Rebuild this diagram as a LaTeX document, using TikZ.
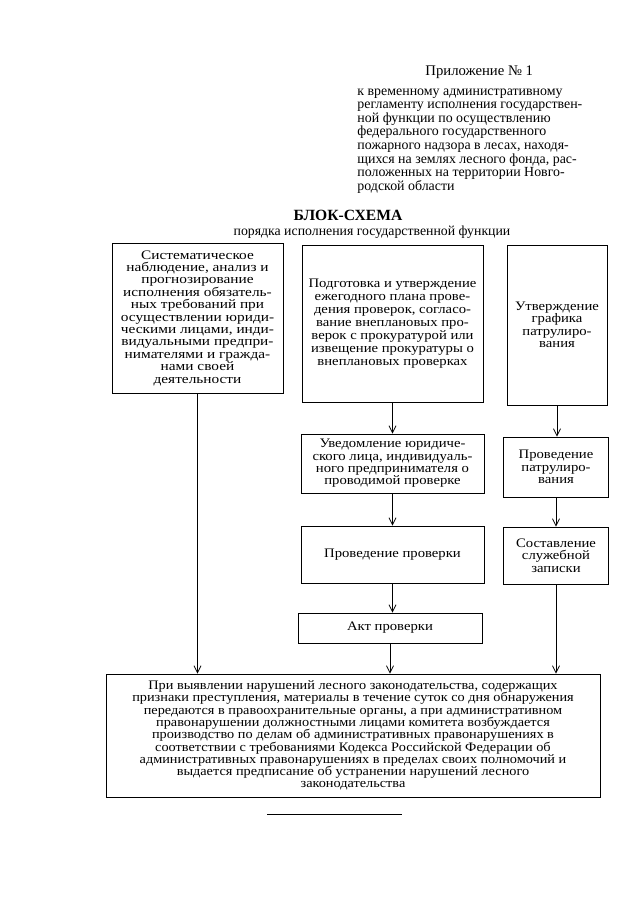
\documentclass[tikz,border=0pt]{standalone}
\usepackage{fontspec}
\setmainfont{Liberation Serif}
\newfontfamily\shirokijL{Liberation Serif}[FakeStretch=1.18]
\newfontfamily\shirokijM{Liberation Serif}[FakeStretch=1.13]
\newfontfamily\shirokijS{Liberation Serif}[FakeStretch=1.10]
\usetikzlibrary{arrows.meta}

\tikzset{every picture/.style={line width=0.9pt}}
\tikzset{
  blok/.style={draw, align=center, inner sep=1pt, font=\shirokijM\fontsize{13}{12.4}\selectfont},
  strelka/.style={-{Straight Barb[length=7pt,width=7pt]}, line width=0.8pt},
}

\begin{document}
\begin{tikzpicture}[x=1pt,y=1pt,yscale=-1,xscale=1]
\useasboundingbox (0,0) rectangle (640,905);

% Text Node
\node (pril) [anchor=west, inner sep=0pt, font=\fontsize{14.7}{13.7}\selectfont] at (425,72) {Приложение № 1};
% Text Node
\node (regl) [anchor=north west, inner sep=0pt, align=left, font=\fontsize{13.9}{13.6}\selectfont] at (357,88) {к временному административному\\регламенту исполнения государствен-\\ной функции по осуществлению\\федерального государственного\\пожарного надзора в лесах, находя-\\щихся на землях лесного фонда, рас-\\положенных на территории Новго-\\родской области};

% Text Node
\node (titul) [inner sep=0pt, font=\fontsize{15.6}{14}\bfseries] at (348,215) {БЛОК-СХЕМА};
% Text Node
\node (podtitul) [inner sep=0pt, font=\fontsize{13.8}{13.7}\selectfont] at (372,232) {порядка исполнения государственной функции};

%Shape: Rectangle
\node (nabl) [blok, font=\shirokijL\fontsize{13}{12.4}\selectfont, minimum width=171, minimum height=150] at (197.5,318) {Систематическое\\наблюдение, анализ и\\прогнозирование\\исполнения обязатель-\\ных требований при\\осуществлении юриди-\\ческими лицами, инди-\\видуальными предпри-\\нимателями и гражда-\\нами своей\\деятельности};
%Shape: Rectangle
\node (plan) [blok, font=\shirokijM\fontsize{13}{13}\selectfont, minimum width=181, minimum height=157] at (392.5,323.5) {Подготовка и утверждение\\ежегодного плана прове-\\дения проверок, согласо-\\вание внеплановых про-\\верок с прокуратурой или\\извещение прокуратуры о\\внеплановых проверках};
%Shape: Rectangle
\node (grafik) [blok, minimum width=100, minimum height=160] at (557,325) {Утверждение\\графика\\патрулиро-\\вания};

%Shape: Rectangle
\node (uved) [blok, minimum width=183, minimum height=59] at (392.5,463.5) {Уведомление юридиче-\\ского лица, индивидуаль-\\ного предпринимателя о\\проводимой проверке};
%Shape: Rectangle
\node (patrul) [blok, minimum width=105, minimum height=60] at (556,467) {Проведение\\патрулиро-\\вания};

%Shape: Rectangle
\node (prov) [blok, minimum width=183, minimum height=57] at (392.5,554.5) {Проведение проверки};
%Shape: Rectangle
\node (zapis) [blok, minimum width=105, minimum height=57] at (556,555.5) {Составление\\служебной\\записки};

%Shape: Rectangle
\node (akt) [blok, minimum width=184, minimum height=30] at (390,628) {Акт проверки};

%Shape: Rectangle
\node (itog) [blok, font=\shirokijS\fontsize{13}{12.3}\selectfont, minimum width=494, minimum height=123] at (353,735.5) {При выявлении нарушений лесного законодательства, содержащих\\признаки преступления, материалы в течение суток со дня обнаружения\\передаются в правоохранительные органы, а при административном\\правонарушении должностными лицами комитета возбуждается\\производство по делам об административных правонарушениях в\\соответствии с требованиями Кодекса Российской Федерации об\\административных правонарушениях в пределах своих полномочий и\\выдается предписание об устранении нарушений лесного\\законодательства};

%Straight Lines
\draw [strelka] (plan.south) -- (plan.south |- uved.north);
\draw [strelka] (uved.south) -- (uved.south |- prov.north);
\draw [strelka] (prov.south) -- (prov.south |- akt.north);
\draw [strelka] (akt.south) -- (akt.south |- itog.north);
\draw [strelka] (grafik.south) -- (grafik.south |- patrul.north);
\draw [strelka] (patrul.south) -- (patrul.south |- zapis.north);
\draw [strelka] (zapis.south) -- (zapis.south |- itog.north);
\draw [strelka] (nabl.south) -- (nabl.south |- itog.north);

%Straight Lines
\coordinate (cherta1) at (267,814);
\coordinate (cherta2) at (402,814);
\draw [line width=0.7pt] (cherta1) -- (cherta2);

\end{tikzpicture}
\end{document}
